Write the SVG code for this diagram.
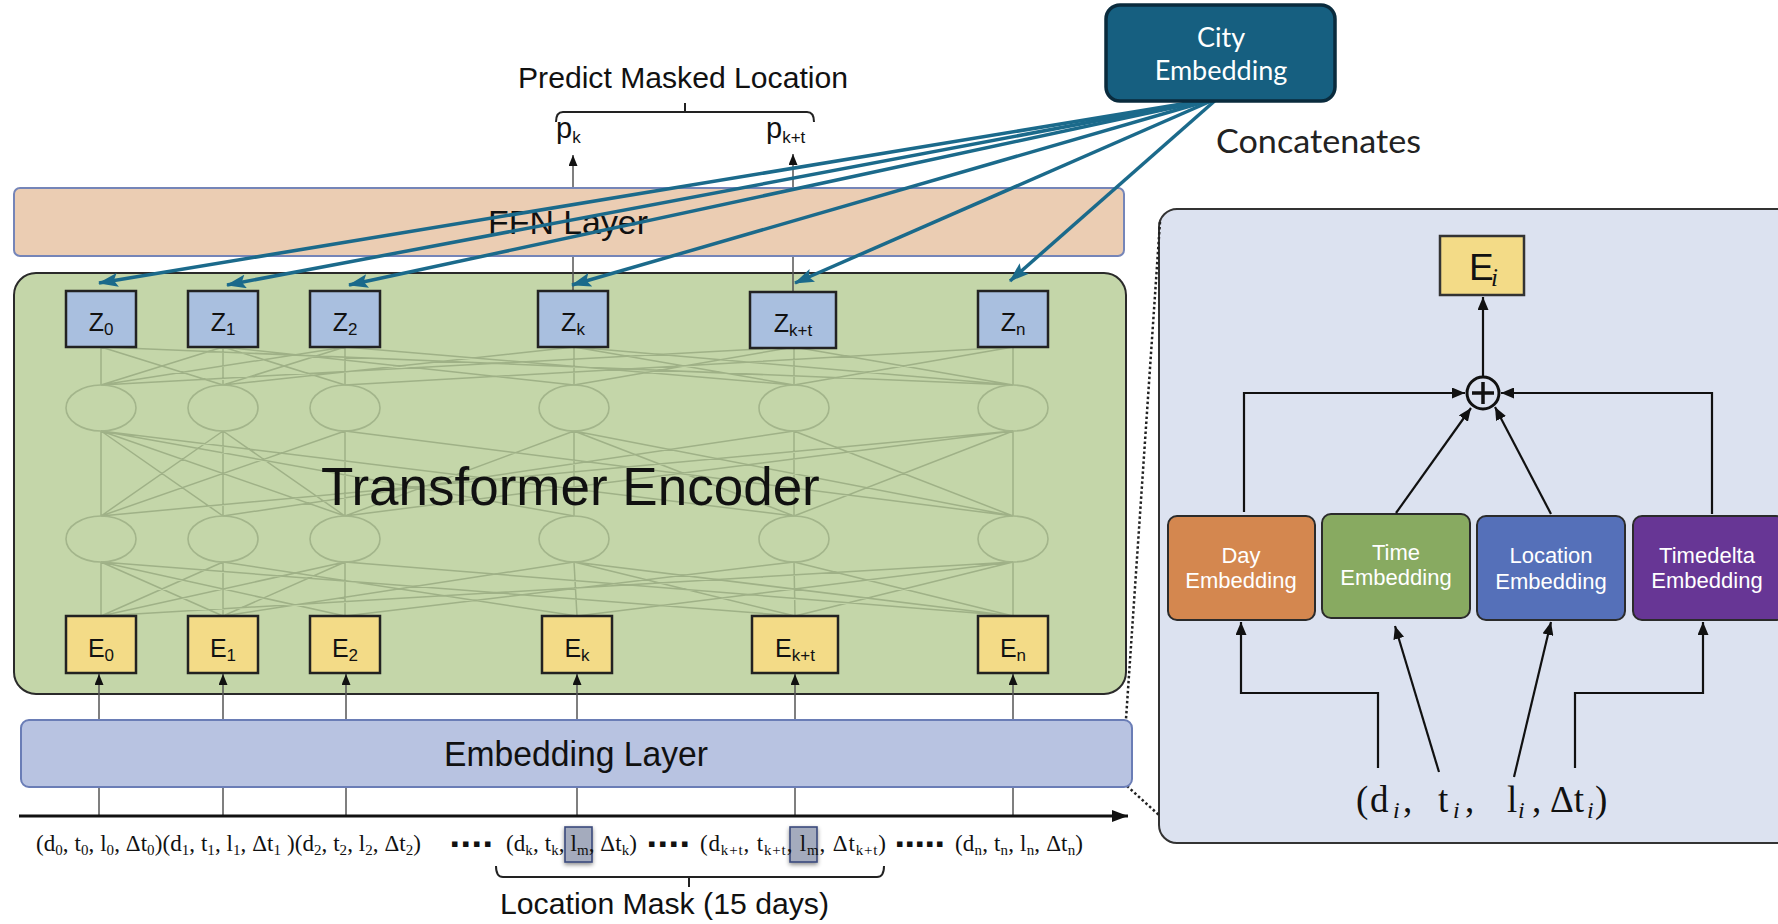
<svg xmlns="http://www.w3.org/2000/svg" width="1778" height="924" viewBox="0 0 1778 924">
<defs>
<style>
.lbl{font-family:"Liberation Sans",Arial,sans-serif;font-size:25px;fill:#111;text-anchor:middle}
.sub{font-size:17px}
.zbox{fill:#a9bfdf;stroke:#222;stroke-width:2.5}
.ebox{fill:#f3db87;stroke:#222;stroke-width:2.5}
.mesh{fill:none;stroke:#9fb187;stroke-width:1.5}
.neuron{fill:none;stroke:#a3b58b;stroke-width:1.6}
.blue{fill:none;stroke:#1b6a8b;stroke-width:3.5;marker-end:url(#mBlue)}
.gline{fill:none;stroke:#555;stroke-width:1.5;marker-end:url(#mS)}
.kline{fill:none;stroke:#111;stroke-width:2.2;marker-end:url(#mK)}
.dotl{fill:none;stroke:#222;stroke-width:2.5;stroke-dasharray:2.5 2.5}
.emb{stroke:#2b2b2b;stroke-width:2}
.wt{font-family:"Liberation Sans",Arial,sans-serif;font-size:22px;fill:#fff;text-anchor:middle}
.seq{font-family:"Liberation Serif","Times New Roman",serif;font-size:23px;fill:#111}
.s{font-size:15px}
.dots{font-family:"DejaVu Sans",sans-serif;font-size:11px;fill:#111}
.head{font-family:"Liberation Sans",Arial,sans-serif;fill:#111}
.mask{fill:#a4abbd;stroke:#3b4a7c;stroke-width:1.6;filter:url(#sh)}
</style>
<marker id="mBlue" markerUnits="userSpaceOnUse" markerWidth="20" markerHeight="14" viewBox="0 0 20 14" refX="19" refY="7" orient="auto"><path d="M0,0 L20,7 L0,14 L4,7 z" fill="#1b6a8b"/></marker>
<marker id="mS" markerUnits="userSpaceOnUse" markerWidth="11" markerHeight="9" viewBox="0 0 11 9" refX="11" refY="4.5" orient="auto"><path d="M0,0 L11,4.5 L0,9 z" fill="#111"/></marker>
<marker id="mK" markerUnits="userSpaceOnUse" markerWidth="13" markerHeight="11" viewBox="0 0 13 11" refX="13" refY="5.5" orient="auto"><path d="M0,0 L13,5.5 L0,11 z" fill="#111"/></marker>
<marker id="mAx" markerUnits="userSpaceOnUse" markerWidth="16" markerHeight="12" viewBox="0 0 16 12" refX="16" refY="6" orient="auto"><path d="M0,0 L16,6 L0,12 z" fill="#111"/></marker>
<filter id="sh" x="-50%" y="-50%" width="200%" height="200%"><feDropShadow dx="0" dy="2" stdDeviation="2" flood-color="#000" flood-opacity="0.45"/></filter>
</defs>
<rect x="0" y="0" width="1778" height="924" fill="#fff"/>

<g id="embedding-detail-panel">
<rect x="1159" y="209" width="640" height="634" rx="18" fill="#dce2f0" stroke="#333" stroke-width="2"/>
</g>

<g id="transformer-encoder">
<rect x="14" y="273" width="1112" height="421" rx="22" fill="#c4d6a9" stroke="#2a2a2a" stroke-width="2"/>
<path class="mesh" d="M101 347L101 385M223 347L223 385M345 347L345 385M574 347L574 385M794 347L794 385M1013 347L1013 385
M101 347L223 385M223 347L101 385M223 347L345 385M345 347L223 385M345 347L101 385M101 347L1013 385M223 347L574 385M345 347L794 385M574 347L223 385M574 347L794 385M794 347L574 385M794 347L1013 385M1013 347L794 385M1013 347L345 385M574 347L1013 385M794 347L101 385
M101 431L101 516M223 431L223 516M345 431L345 516M574 431L574 516M794 431L794 516M1013 431L1013 516
M101 431L223 516M101 431L345 516M101 431L574 516M101 431L794 516M223 431L101 516M223 431L345 516M345 431L101 516M345 431L1013 516M574 431L345 516M574 431L794 516M574 431L1013 516M794 431L223 516M794 431L1013 516M1013 431L794 516M1013 431L345 516M1013 431L101 516
M101 562L101 616M223 562L223 616M345 562L345 616M574 562L577 616M794 562L795 616M1013 562L1013 616
M101 562L223 616M101 562L345 616M101 562L795 616M223 562L101 616M223 562L577 616M345 562L101 616M345 562L223 616M345 562L1013 616M574 562L223 616M574 562L795 616M574 562L1013 616M794 562L345 616M794 562L1013 616M1013 562L795 616M1013 562L101 616M1013 562L577 616"/>
<g class="neuron">
<ellipse cx="101" cy="408" rx="35" ry="23"/><ellipse cx="223" cy="408" rx="35" ry="23"/><ellipse cx="345" cy="408" rx="35" ry="23"/><ellipse cx="574" cy="408" rx="35" ry="23"/><ellipse cx="794" cy="408" rx="35" ry="23"/><ellipse cx="1013" cy="408" rx="35" ry="23"/>
<ellipse cx="101" cy="539" rx="35" ry="23"/><ellipse cx="223" cy="539" rx="35" ry="23"/><ellipse cx="345" cy="539" rx="35" ry="23"/><ellipse cx="574" cy="539" rx="35" ry="23"/><ellipse cx="794" cy="539" rx="35" ry="23"/><ellipse cx="1013" cy="539" rx="35" ry="23"/>
</g>
<text class="head" x="321" y="505" font-size="53">Transformer Encoder</text>
</g>

<g id="connectors-back">
<line class="gline" x1="573" y1="291" x2="573" y2="155" stroke="#666"/>
<line class="gline" x1="793" y1="292" x2="793" y2="154" stroke="#666"/>
<line class="gline" x1="99" y1="816" x2="99" y2="674"/>
<line class="gline" x1="223" y1="816" x2="223" y2="674"/>
<line class="gline" x1="346" y1="816" x2="346" y2="674"/>
<line class="gline" x1="577" y1="816" x2="577" y2="674"/>
<line class="gline" x1="795" y1="816" x2="795" y2="674"/>
<line class="gline" x1="1013" y1="816" x2="1013" y2="674"/>
<line x1="19" y1="816" x2="1128" y2="816" stroke="#111" stroke-width="3" marker-end="url(#mAx)"/>
<line class="dotl" x1="1160" y1="222" x2="1126" y2="719"/>
<line class="dotl" x1="1127" y1="786" x2="1160" y2="816"/>
</g>

<g id="ffn-layer">
<rect x="14" y="188" width="1110" height="68" rx="6" fill="#ebcdb3" stroke="#7585b8" stroke-width="2"/>
<text class="head" x="488" y="234" font-size="33" textLength="160" lengthAdjust="spacingAndGlyphs">FFN Layer</text>
</g>

<g id="embedding-layer">
<rect x="21" y="720" width="1111" height="67" rx="8" fill="#b8c3e1" stroke="#6a7db6" stroke-width="2"/>
<text class="head" x="444" y="766" font-size="35" textLength="264" lengthAdjust="spacingAndGlyphs">Embedding Layer</text>
</g>

<g id="z0"><rect class="zbox" x="66" y="291" width="70" height="56"/><text class="lbl" x="101" y="331">Z<tspan class="sub" dy="4">0</tspan></text></g>
<g id="z1"><rect class="zbox" x="188" y="291" width="70" height="56"/><text class="lbl" x="223" y="331">Z<tspan class="sub" dy="4">1</tspan></text></g>
<g id="z2"><rect class="zbox" x="310" y="291" width="70" height="56"/><text class="lbl" x="345" y="331">Z<tspan class="sub" dy="4">2</tspan></text></g>
<g id="zk"><rect class="zbox" x="538" y="291" width="70" height="56"/><text class="lbl" x="573" y="331">Z<tspan class="sub" dy="4">k</tspan></text></g>
<g id="zkt"><rect class="zbox" x="750" y="292" width="86" height="56"/><text class="lbl" x="793" y="332">Z<tspan class="sub" dy="4">k+t</tspan></text></g>
<g id="zn"><rect class="zbox" x="978" y="291" width="70" height="56"/><text class="lbl" x="1013" y="331">Z<tspan class="sub" dy="4">n</tspan></text></g>

<g id="e0"><rect class="ebox" x="66" y="616" width="70" height="57"/><text class="lbl" x="101" y="657">E<tspan class="sub" dy="4">0</tspan></text></g>
<g id="e1"><rect class="ebox" x="188" y="616" width="70" height="57"/><text class="lbl" x="223" y="657">E<tspan class="sub" dy="4">1</tspan></text></g>
<g id="e2"><rect class="ebox" x="310" y="616" width="70" height="57"/><text class="lbl" x="345" y="657">E<tspan class="sub" dy="4">2</tspan></text></g>
<g id="ek"><rect class="ebox" x="542" y="616" width="70" height="57"/><text class="lbl" x="577" y="657">E<tspan class="sub" dy="4">k</tspan></text></g>
<g id="ekt"><rect class="ebox" x="752" y="616" width="86" height="57"/><text class="lbl" x="795" y="657">E<tspan class="sub" dy="4">k+t</tspan></text></g>
<g id="en"><rect class="ebox" x="978" y="616" width="70" height="57"/><text class="lbl" x="1013" y="657">E<tspan class="sub" dy="4">n</tspan></text></g>

<g id="predict-label">
<text class="head" x="518" y="88" font-size="29" textLength="330" lengthAdjust="spacingAndGlyphs">Predict Masked Location</text>
<path d="M556 122Q556 112 563 112L807 112Q814 112 814 122M685 112L685 103" fill="none" stroke="#222" stroke-width="2"/>
<text class="head" x="556" y="138" font-size="29">p<tspan font-size="17" dy="5">k</tspan></text>
<text class="head" x="766" y="138" font-size="29">p<tspan font-size="17" dy="5">k+t</tspan></text>
</g>

<g id="input-sequence">
<rect class="mask" x="565" y="827" width="27" height="35"/>
<rect class="mask" x="790" y="827" width="27" height="35"/>
<text class="seq" x="36" y="851" textLength="385" lengthAdjust="spacing">(d<tspan class="s" dy="4">0</tspan><tspan dy="-4">, t</tspan><tspan class="s" dy="4">0</tspan><tspan dy="-4">, l</tspan><tspan class="s" dy="4">0</tspan><tspan dy="-4">, Δt</tspan><tspan class="s" dy="4">0</tspan><tspan dy="-4">)(d</tspan><tspan class="s" dy="4">1</tspan><tspan dy="-4">, t</tspan><tspan class="s" dy="4">1</tspan><tspan dy="-4">, l</tspan><tspan class="s" dy="4">1</tspan><tspan dy="-4">, Δt</tspan><tspan class="s" dy="4">1</tspan><tspan dy="-4"> )(d</tspan><tspan class="s" dy="4">2</tspan><tspan dy="-4">, t</tspan><tspan class="s" dy="4">2</tspan><tspan dy="-4">, l</tspan><tspan class="s" dy="4">2</tspan><tspan dy="-4">, Δt</tspan><tspan class="s" dy="4">2</tspan><tspan dy="-4">)</tspan></text>
<text class="dots" x="451 462 473 484" y="847">▪▪▪▪</text>
<text class="seq" x="506" y="851" textLength="131" lengthAdjust="spacing">(d<tspan class="s" dy="4">k</tspan><tspan dy="-4">, t</tspan><tspan class="s" dy="4">k</tspan><tspan dy="-4">, l</tspan><tspan class="s" dy="4">m</tspan><tspan dy="-4">, Δt</tspan><tspan class="s" dy="4">k</tspan><tspan dy="-4">)</tspan></text>
<text class="dots" x="648 659 670 681" y="847">▪▪▪▪</text>
<text class="seq" x="700" y="851" textLength="186" lengthAdjust="spacing">(d<tspan class="s" dy="4">k+t</tspan><tspan dy="-4">, t</tspan><tspan class="s" dy="4">k+t</tspan><tspan dy="-4">, l</tspan><tspan class="s" dy="4">m</tspan><tspan dy="-4">, Δt</tspan><tspan class="s" dy="4">k+t</tspan><tspan dy="-4">)</tspan></text>
<text class="dots" x="896 906 916 926 936" y="847">▪▪▪▪▪</text>
<text class="seq" x="955" y="851" textLength="128" lengthAdjust="spacing">(d<tspan class="s" dy="4">n</tspan><tspan dy="-4">, t</tspan><tspan class="s" dy="4">n</tspan><tspan dy="-4">, l</tspan><tspan class="s" dy="4">n</tspan><tspan dy="-4">, Δt</tspan><tspan class="s" dy="4">n</tspan><tspan dy="-4">)</tspan></text>
<path d="M496 866Q496 877 503 877L877 877Q884 877 884 866M689 877L689 887" fill="none" stroke="#222" stroke-width="2"/>
<text class="head" x="500" y="914" font-size="30" textLength="329" lengthAdjust="spacingAndGlyphs">Location Mask (15 days)</text>
</g>

<g id="ei"><rect x="1440" y="236" width="84" height="59" fill="#f3db87" stroke="#333" stroke-width="2.5"/><text class="head" x="1469" y="280" font-size="37">E</text><text x="1491" y="286" font-family="Liberation Serif,serif" font-style="italic" font-size="25" fill="#111">i</text></g>
<g id="sum"><circle cx="1483" cy="393" r="16" fill="#dce2f0" stroke="#111" stroke-width="3"/><path d="M1472 393H1494M1483 382V404" stroke="#111" stroke-width="3.5"/></g>
<g id="day-embedding"><rect class="emb" x="1168" y="516" width="147" height="104" rx="9" fill="#d4874f"/><text class="wt" x="1241" y="563">Day</text><text class="wt" x="1241" y="588">Embedding</text></g>
<g id="time-embedding"><rect class="emb" x="1322" y="514" width="148" height="104" rx="9" fill="#88aa61"/><text class="wt" x="1396" y="560">Time</text><text class="wt" x="1396" y="585">Embedding</text></g>
<g id="location-embedding"><rect class="emb" x="1477" y="516" width="148" height="104" rx="9" fill="#5570b9"/><text class="wt" x="1551" y="563">Location</text><text class="wt" x="1551" y="589">Embedding</text></g>
<g id="timedelta-embedding"><rect class="emb" x="1633" y="516" width="152" height="104" rx="9" fill="#673695"/><text class="wt" x="1707" y="563">Timedelta</text><text class="wt" x="1707" y="588">Embedding</text></g>
<g id="input-tuple">
<text font-family="Liberation Serif,serif" font-size="37" fill="#111" y="812"><tspan x="1356">(</tspan><tspan x="1370">d</tspan><tspan x="1393" dy="6" font-size="24" font-style="italic">i</tspan><tspan x="1403" dy="-6">,</tspan><tspan x="1438">t</tspan><tspan x="1453" dy="6" font-size="24" font-style="italic">i</tspan><tspan x="1465" dy="-6">,</tspan><tspan x="1507">l</tspan><tspan x="1518" dy="6" font-size="24" font-style="italic">i</tspan><tspan x="1532" dy="-6">,</tspan><tspan x="1550">Δt</tspan><tspan x="1587" dy="6" font-size="24" font-style="italic">i</tspan><tspan x="1595" dy="-6">)</tspan></text>
</g>

<g id="connectors">
<line class="kline" x1="1483" y1="377" x2="1483" y2="297"/>
<polyline class="kline" points="1244,512 1244,393 1465,393"/>
<polyline class="kline" points="1712,514 1712,393 1501,393"/>
<line class="kline" x1="1396" y1="513" x2="1471" y2="408"/>
<line class="kline" x1="1551" y1="514" x2="1495" y2="407"/>
<polyline class="kline" points="1378,768 1378,693 1241,693 1241,622"/>
<line class="kline" x1="1439" y1="772" x2="1395" y2="626"/>
<line class="kline" x1="1514" y1="777" x2="1551" y2="622"/>
<polyline class="kline" points="1575,768 1575,693 1703,693 1703,622"/>
<line class="blue" x1="1218" y1="98" x2="99" y2="283"/>
<line class="blue" x1="1218" y1="98" x2="227" y2="285"/>
<line class="blue" x1="1218" y1="98" x2="349" y2="285"/>
<line class="blue" x1="1218" y1="98" x2="572" y2="285"/>
<line class="blue" x1="1218" y1="98" x2="795" y2="283"/>
<line class="blue" x1="1218" y1="98" x2="1010" y2="281"/>
</g>

<g id="city-embedding">
<rect x="1106" y="5" width="229" height="96" rx="14" fill="#165f80" stroke="#0a2b3d" stroke-width="3.5"/>
<text x="1221" y="47" font-family="Lato,'Open Sans',sans-serif" font-size="27" fill="#fff" text-anchor="middle">City</text>
<text x="1221" y="80" font-family="Lato,'Open Sans',sans-serif" font-size="27" fill="#fff" text-anchor="middle">Embedding</text>
</g>
<g id="concatenates-label">
<text x="1216" y="153" font-family="Lato,'Open Sans',sans-serif" font-size="32" fill="#222" textLength="205" lengthAdjust="spacingAndGlyphs">Concatenates</text>
</g>
</svg>
